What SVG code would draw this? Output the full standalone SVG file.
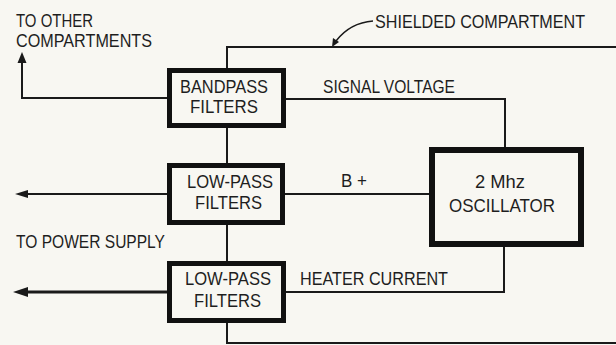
<svg xmlns="http://www.w3.org/2000/svg" width="616" height="345" viewBox="0 0 616 345">
<style>
.bg{fill:#f8f7f2}
.box{fill:none;stroke:#111;stroke-width:5}
.osc{fill:none;stroke:#111;stroke-width:6}
.ln{fill:none;stroke:#1a1a1a;stroke-width:2}
.t{font-family:"Liberation Sans",Arial,sans-serif;font-size:18px;fill:#1e1e1e}
.ah{fill:#1a1a1a}
</style>
<rect class="bg" x="0" y="0" width="616" height="345"/>
<g id="connectors">
  <path class="ln" d="M227,68 V47 H616"/>
  <path class="ln" d="M227,128 V163"/>
  <path class="ln" d="M227,225 V261"/>
  <path class="ln" d="M227,323 V343 H616"/>
  <path class="ln" d="M167,98 H22 V60"/>
  <polygon class="ah" points="22,52 17.5,63 26.5,63"/>
  <path class="ln" d="M286,99 H505 V147"/>
  <path class="ln" d="M285,194 H429"/>
  <path class="ln" d="M504,247 V292 H285"/>
  <path class="ln" d="M167,194 H24"/>
  <polygon class="ah" points="15,194 28,190 28,198"/>
  <path class="ln" d="M167,292 H24" style="stroke-width:3"/>
  <polygon class="ah" points="13,292 28,287 28,297"/>
  <path class="ln" d="M373,21 C360,22 346,28 336,41" style="stroke-width:1.5"/>
  <polygon class="ah" points="332,47 333,38 339,42"/>
</g>
<g id="labels">
  <text class="t" x="16" y="27" textLength="77" lengthAdjust="spacingAndGlyphs">TO OTHER</text>
  <text class="t" x="16" y="47" textLength="136" lengthAdjust="spacingAndGlyphs">COMPARTMENTS</text>
  <text class="t" x="375" y="28" textLength="210" lengthAdjust="spacingAndGlyphs">SHIELDED COMPARTMENT</text>
  <text class="t" x="323" y="93" textLength="132" lengthAdjust="spacingAndGlyphs">SIGNAL VOLTAGE</text>
  <text class="t" x="341" y="187" textLength="26" lengthAdjust="spacingAndGlyphs">B +</text>
  <text class="t" x="16" y="248" textLength="149" lengthAdjust="spacingAndGlyphs">TO POWER SUPPLY</text>
  <text class="t" x="300" y="285" textLength="148" lengthAdjust="spacingAndGlyphs">HEATER CURRENT</text>
</g>
<g id="bandpass">
  <rect class="box" x="169.5" y="70.5" width="114" height="55"/>
  <text class="t" x="180" y="93" textLength="88" lengthAdjust="spacingAndGlyphs">BANDPASS</text>
  <text class="t" x="190" y="113" textLength="68" lengthAdjust="spacingAndGlyphs">FILTERS</text>
</g>
<g id="lowpass1">
  <rect class="box" x="169.5" y="165.5" width="113" height="57"/>
  <text class="t" x="187" y="188" textLength="86" lengthAdjust="spacingAndGlyphs">LOW-PASS</text>
  <text class="t" x="195" y="209" textLength="67" lengthAdjust="spacingAndGlyphs">FILTERS</text>
</g>
<g id="lowpass2">
  <rect class="box" x="169.5" y="263.5" width="114" height="57"/>
  <text class="t" x="185" y="285" textLength="86" lengthAdjust="spacingAndGlyphs">LOW-PASS</text>
  <text class="t" x="194" y="307" textLength="67" lengthAdjust="spacingAndGlyphs">FILTERS</text>
</g>
<g id="oscillator">
  <rect class="osc" x="432" y="150" width="149" height="94"/>
  <text class="t" x="475" y="188" textLength="50" lengthAdjust="spacingAndGlyphs">2 Mhz</text>
  <text class="t" x="449" y="212" textLength="106" lengthAdjust="spacingAndGlyphs">OSCILLATOR</text>
</g>
</svg>
